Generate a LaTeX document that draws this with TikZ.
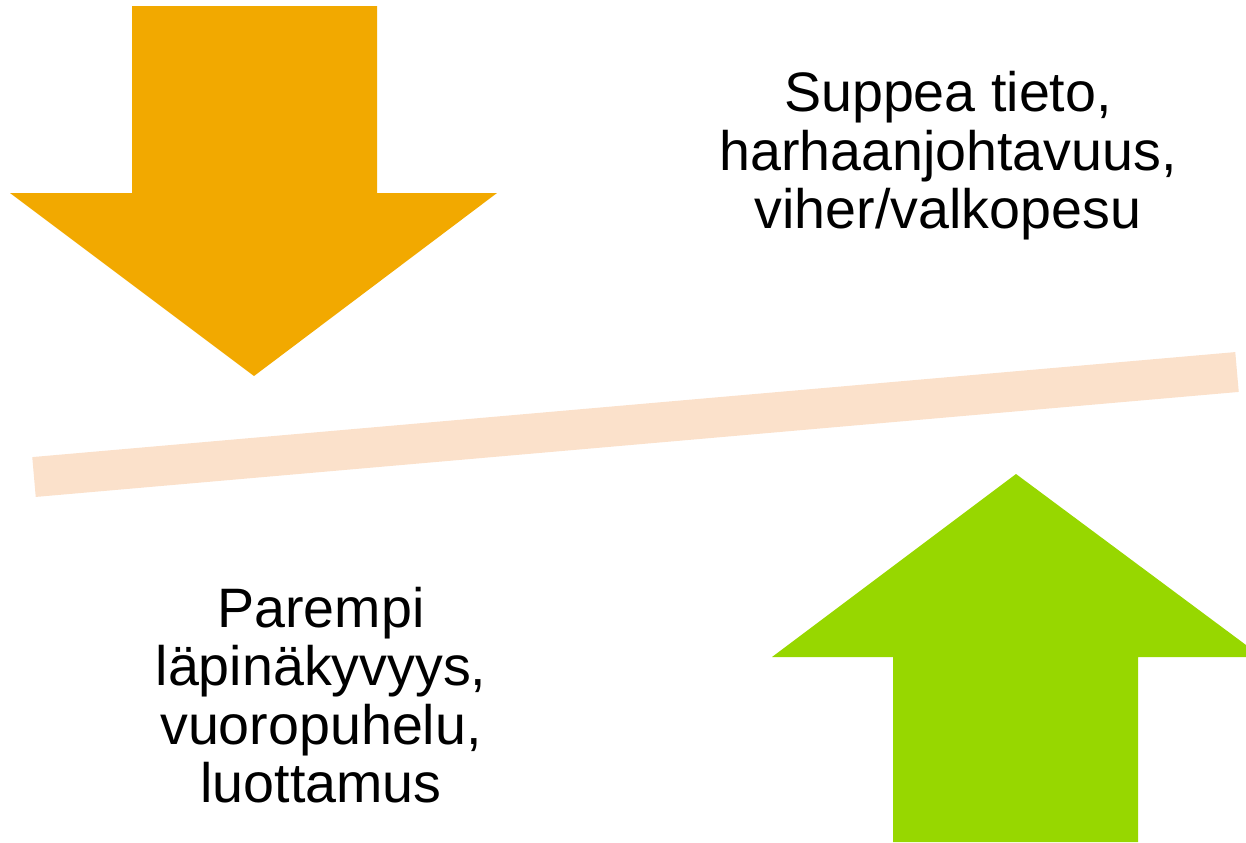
\documentclass[tikz,border=0pt]{standalone}
\usepackage{fontspec}
\setmainfont{Liberation Sans}
\definecolor{arrorange}{HTML}{F2A900}
\definecolor{arrgreen}{HTML}{97D700}
\definecolor{bandbeige}{HTML}{FBE1CB}
\begin{document}
\begin{tikzpicture}[x=0.5pt,y=-0.5pt]
\tikzset{lbl/.style={align=center,font=\fontsize{27.8pt}{29.2pt}\selectfont,inner sep=0pt}}
\useasboundingbox (0,0) rectangle (1246,842);
\fill[arrorange] (132,6) -- (377,6) -- (377,193) -- (497,193) -- (254,376) -- (10,193) -- (132,193) -- cycle;
\fill[arrgreen] (893,842) -- (1138,842) -- (1138,657) -- (1246,657) -- (1246,645) -- (1016,474) -- (772,657) -- (893,657) -- cycle;
\draw[bandbeige,line width=20pt] (34,477) -- (1237,372);
\node[lbl] (top) at (948,156) {Suppea tieto,\\harhaanjohtavuus,\\viher/valkopesu};
\node[lbl] (bot) at (321,695) {Parempi\\läpinäkyvyys,\\vuoropuhelu,\\luottamus};
\end{tikzpicture}
\end{document}
